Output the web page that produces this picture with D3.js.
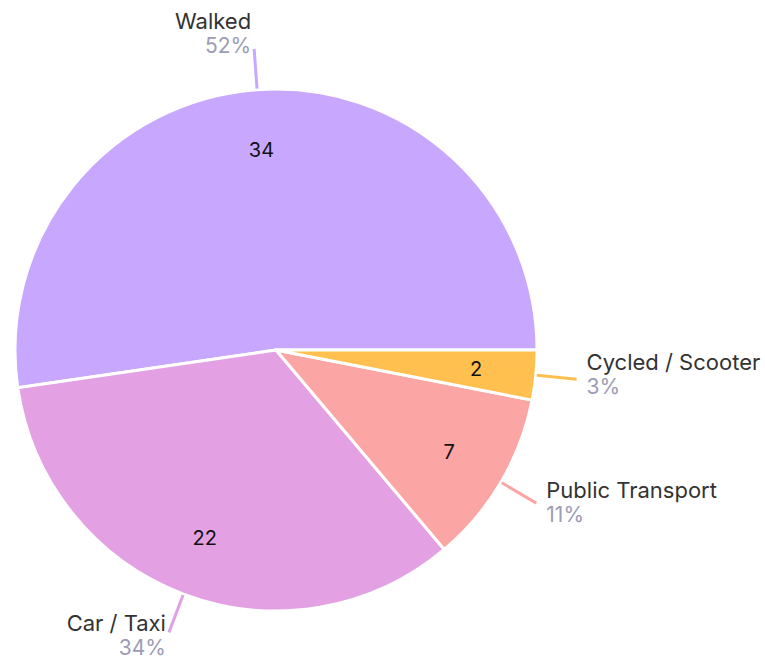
<!DOCTYPE html>
<html>
<head>
<meta charset="utf-8">
<script src="https://cdn.jsdelivr.net/npm/d3@7.9.0/dist/d3.min.js"></script>
<style>
  html, body { margin: 0; padding: 0; background: #fff; overflow: hidden; }
  svg { display: block; font-family: Inter, "Noto Sans", sans-serif; }
</style>
</head>
<body>
<svg width="765" height="661"></svg>
<script>
const categories = ['Walked', 'Car / Taxi', 'Public Transport', 'Cycled / Scooter'];
const values = [34, 22, 7, 2];
const colors = ['#c8a8ff', '#e3a1e4', '#fca5a5', '#ffc04f'];

const width = 765, height = 661;
const cx = 276, cy = 350, radius = 261;

const total = d3.sum(values);
const data = categories.map((c, i) => ({ label: c, value: values[i], color: colors[i] }));

const svg = d3.select('svg');
const g = svg.append('g').attr('transform', `translate(${cx},${cy})`);

// counter-clockwise starting at 3 o'clock
let pie = d3.pie().value(d => d.value).sort(null)
  .startAngle(Math.PI / 2).endAngle(Math.PI / 2 - 2 * Math.PI);
let arcs = pie(data);

let arcGen = d3.arc().innerRadius(0).outerRadius(radius);
let labelArc = d3.arc().innerRadius(radius * 0.77).outerRadius(radius * 0.77);

g.selectAll('path.slice')
  .data(arcs)
  .join('path')
  .attr('class', 'slice')
  .attr('d', arcGen)
  .attr('fill', d => d.data.color)
  .attr('stroke', '#fff')
  .attr('stroke-width', 3)
  .attr('stroke-linejoin', 'round');

g.selectAll('text.value')
  .data(arcs)
  .join('text')
  .attr('class', 'value')
  .attr('transform', d => `translate(${labelArc.centroid(d)})`)
  .attr('text-anchor', 'middle')
  .attr('dy', '0.35em')
  .attr('font-size', 20)
  .attr('fill', '#111')
  .text(d => d.data.value);

// leader lines + outside labels
arcs.forEach(d => {
  let mid = (d.startAngle + d.endAngle) / 2;
  let s = Math.sin(mid), c = -Math.cos(mid);
  let x0 = s * (radius + 1), y0 = c * (radius + 1);
  let x1 = s * (radius + 41), y1 = c * (radius + 41);

  g.append('line')
    .attr('x1', x0).attr('y1', y0)
    .attr('x2', x1).attr('y2', y1)
    .attr('stroke', d.data.color)
    .attr('stroke-width', 3);

  let right = s > 0 && Math.cos(mid) < 0.9;
  let tx = right ? x1 + 10 : x1 - 3;
  let pctY = y1 + 13.8 + 9.8 * c;
  let anchor = right ? 'start' : 'end';

  g.append('text')
    .attr('x', tx).attr('y', pctY - 24)
    .attr('text-anchor', anchor)
    .attr('font-size', 22)
    .attr('fill', '#333')
    .text(d.data.label);

  g.append('text')
    .attr('x', tx).attr('y', pctY)
    .attr('text-anchor', anchor)
    .attr('font-size', 21)
    .attr('fill', '#9d9cb5')
    .text(Math.round(d.data.value / total * 100) + '%');
});
</script>
</body>
</html>
